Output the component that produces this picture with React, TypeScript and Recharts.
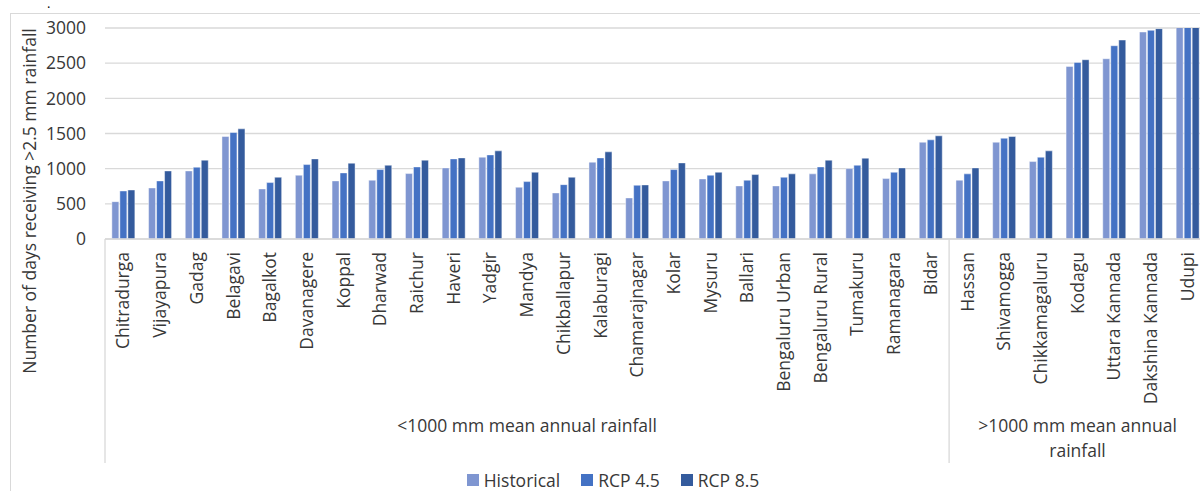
import React from "react";
import { BarChart, Bar, XAxis, YAxis, CartesianGrid } from "recharts";

// Districts of Karnataka, ordered within each mean-annual-rainfall group
const districts = [
  "Chitradurga", "Vijayapura", "Gadag", "Belagavi", "Bagalkot", "Davanagere",
  "Koppal", "Dharwad", "Raichur", "Haveri", "Yadgir", "Mandya", "Chikballapur",
  "Kalaburagi", "Chamarajnagar", "Kolar", "Mysuru", "Ballari", "Bengaluru Urban",
  "Bengaluru Rural", "Tumakuru", "Ramanagara", "Bidar", "Hassan", "Shivamogga",
  "Chikkamagaluru", "Kodagu", "Uttara Kannada", "Dakshina Kannada", "Udupi",
];

// Number of days receiving >2.5 mm rainfall
const historical = [
  531, 726, 968, 1457, 712, 907, 826, 836, 930, 1011, 1163, 736, 655, 1092, 584,
  826, 854, 755, 755, 926, 1001, 859, 1376, 836, 1376, 1101, 2454, 2563, 2943, 3100,
];
const rcp45 = [
  683, 826, 1021, 1514, 802, 1058, 940, 987, 1025, 1139, 1196, 816, 773, 1153, 764,
  987, 907, 836, 878, 1025, 1049, 949, 1410, 926, 1433, 1163, 2511, 2748, 2967, 3150,
];
const rcp85 = [
  697, 968, 1121, 1566, 878, 1139, 1078, 1049, 1121, 1153, 1253, 949, 878, 1239, 769,
  1082, 949, 916, 926, 1121, 1149, 1011, 1467, 1011, 1457, 1253, 2549, 2829, 2991, 3200,
];

const yTicks = [0, 500, 1000, 1500, 2000, 2500, 3000];

// Rainfall groups: first district index of each group and its (wrapped) caption
const groupStarts = [0, 23];
const groupCaptions = [
  ["<1000 mm mean annual rainfall"],
  [">1000 mm mean annual", "rainfall"],
];

const seriesKeys = ["historical", "rcp45", "rcp85"];
const seriesNames = ["Historical", "RCP 4.5", "RCP 8.5"];
const seriesColors = ["#7F96D1", "#4472C4", "#345B9D"];

const yTitle = "Number of days receiving >2.5 mm rainfall";

const data = districts.map((district, i) => ({
  district,
  historical: historical[i],
  rcp45: rcp45[i],
  rcp85: rcp85[i],
}));

const FONT = "'Open Sans', sans-serif";
const FONT_SIZE = 17.5;
const TEXT = "#383838";
const GRID = "#d9d9d9";
const LABEL_GAP = 13;
const GROUP_TOP = 187;
const GROUP_LINE = 25;
const DIVIDER_LEN = 224;

function DistrictTick(props: any) {
  const { x, y, payload, index, width } = props;
  const half = width / districts.length / 2;
  const axisY = y - LABEL_GAP;
  const parts: React.ReactNode[] = [];

  parts.push(
    <text
      key="label"
      x={x}
      y={y}
      dy="0.35em"
      textAnchor="end"
      transform={`rotate(-90 ${x} ${y})`}
      fill={TEXT}
      fontSize={FONT_SIZE}
      fontFamily={FONT}
    >
      {payload.value}
    </text>
  );

  // group dividers below the axis
  if (groupStarts.includes(index)) {
    parts.push(
      <line key="div" x1={x - half} x2={x - half} y1={axisY} y2={axisY + DIVIDER_LEN} stroke={GRID} strokeWidth={1.3} />
    );
  }
  if (index === districts.length - 1) {
    parts.push(
      <line key="divEnd" x1={x + half} x2={x + half} y1={axisY} y2={axisY + DIVIDER_LEN} stroke={GRID} strokeWidth={1.3} />
    );
  }

  // group captions centred under each group
  groupStarts.forEach((start, g) => {
    const end = (g + 1 < groupStarts.length ? groupStarts[g + 1] : districts.length) - 1;
    const mid = (start + end) / 2;
    if (index === Math.floor(mid)) {
      const cx = x + (mid - Math.floor(mid)) * 2 * half;
      groupCaptions[g].forEach((line, li) => {
        parts.push(
          <text
            key={`g${g}-${li}`}
            x={cx}
            y={axisY + GROUP_TOP + li * GROUP_LINE}
            dy="0.35em"
            textAnchor="middle"
            fill={TEXT}
            fontSize={FONT_SIZE}
            fontFamily={FONT}
          >
            {line}
          </text>
        );
      });
    }
  });

  return <g>{parts}</g>;
}

export default function App() {
  return (
    <div
      style={{
        position: "absolute",
        left: 0,
        top: 0,
        width: 1200,
        height: 491,
        overflow: "hidden",
        background: "#ffffff",
        fontFamily: FONT,
      }}
    >
      <div
        style={{
          position: "absolute",
          left: 10,
          top: 13,
          width: 1260,
          height: 540,
          border: `1px solid ${GRID}`,
          boxSizing: "border-box",
        }}
      />
      <svg width={60} height={12} style={{ position: "absolute", left: 0, top: 0 }}>
        <text x={47} y={8} fontSize={13} fontFamily={FONT} fill="#000">.</text>
      </svg>

      <div style={{ position: "absolute", left: 0, top: 0 }}>
        <BarChart
          width={1230}
          height={491}
          data={data}
          margin={{ top: 28, right: 24, bottom: 0, left: 0 }}
          barCategoryGap="18.7%"
          barGap={1}
        >
          <CartesianGrid horizontal vertical={false} stroke={GRID} strokeWidth={1.3} />
          <YAxis
            domain={[0, 3000]}
            ticks={yTicks}
            allowDataOverflow
            interval={0}
            axisLine={false}
            tickLine={false}
            width={105}
            tickSize={0}
            tickMargin={19}
            tick={{ fill: TEXT, fontSize: FONT_SIZE, fontFamily: FONT }}
          />
          <XAxis
            dataKey="district"
            interval={0}
            height={252}
            axisLine={{ stroke: GRID, strokeWidth: 1.3 }}
            tickLine={false}
            tickSize={0}
            tickMargin={LABEL_GAP}
            tick={<DistrictTick />}
          />
          {seriesKeys.map((key, i) => (
            <Bar
              key={key}
              dataKey={key}
              name={seriesNames[i]}
              fill={seriesColors[i]}
              stroke="#ffffff"
              strokeOpacity={0.45}
              strokeWidth={1}
              isAnimationActive={false}
            />
          ))}
        </BarChart>
      </div>

      <svg
        width={70}
        height={491}
        style={{ position: "absolute", left: 0, top: 0 }}
      >
        <text
          x={30}
          y={201}
          dy="0.35em"
          textAnchor="middle"
          transform="rotate(-90 30 201)"
          fill={TEXT}
          fontSize={FONT_SIZE}
          fontFamily={FONT}
        >
          {yTitle}
        </text>
      </svg>

      <div
        style={{
          position: "absolute",
          left: 0,
          top: 470,
          width: 1226,
          display: "flex",
          justifyContent: "center",
          alignItems: "center",
          lineHeight: "20px",
          fontSize: FONT_SIZE,
          color: TEXT,
        }}
      >
        {seriesNames.map((name, i) => (
          <div key={name} style={{ display: "flex", alignItems: "center", marginLeft: i === 0 ? 0 : 21 }}>
            <span style={{ width: 12, height: 12, background: seriesColors[i], marginRight: 5, display: "inline-block" }} />
            <span>{name}</span>
          </div>
        ))}
      </div>
    </div>
  );
}
